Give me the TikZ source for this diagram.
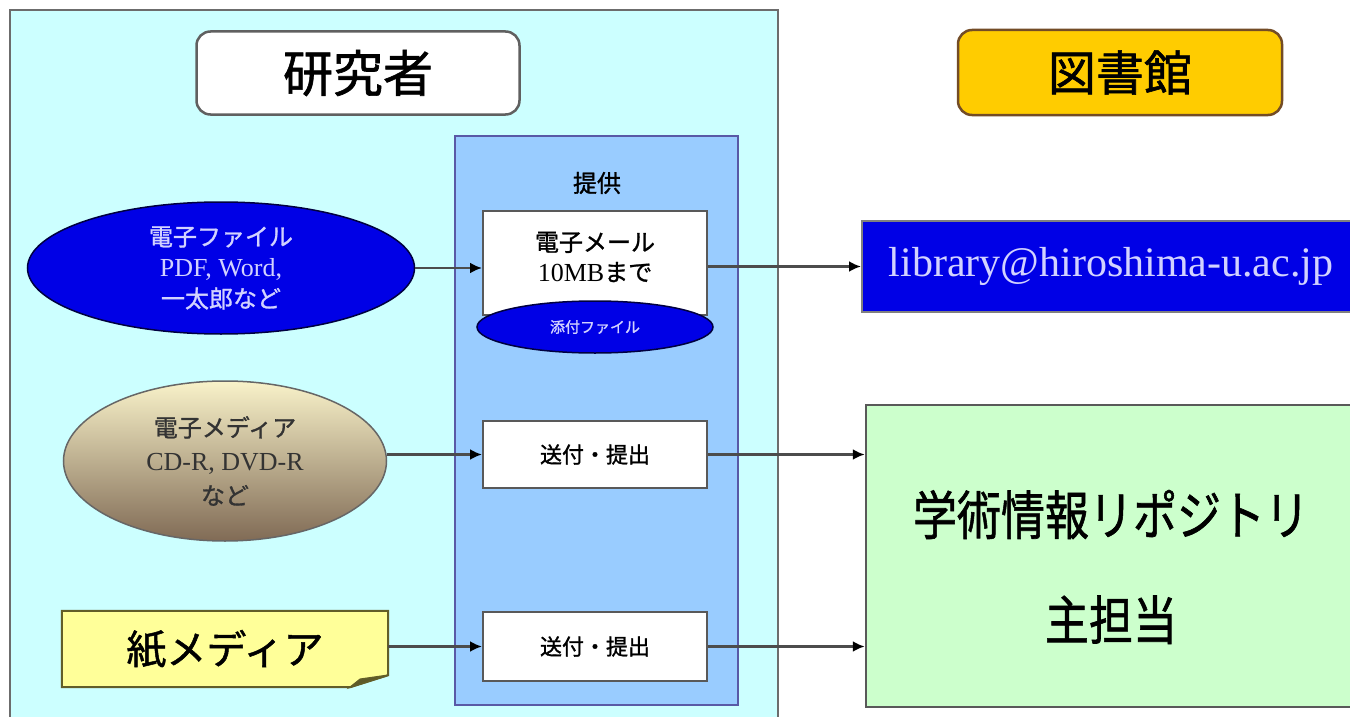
\documentclass[tikz,border=0pt]{standalone}
\usepackage{fontspec}
\setmainfont{Noto Sans CJK JP}[FakeBold=1.2]
\newfontfamily\lat{Liberation Serif}
\usetikzlibrary{shapes.geometric, arrows.meta}

\definecolor{panelcyan}{HTML}{CCFFFF}
\definecolor{offerblue}{HTML}{99CCFF}
\definecolor{fileblue}{HTML}{0000E6}
\definecolor{lightlav}{HTML}{D2D2FF}
\definecolor{libgold}{HTML}{FFCC00}
\definecolor{repogreen}{HTML}{CCFFCC}
\definecolor{paperyellow}{HTML}{FFFF99}

\tikzset{
  panel/.style={draw=gray!85!black, line width=2pt},
  headbox/.style={rectangle, rounded corners=14pt, draw=gray!75!black, line width=2.5pt, inner sep=0pt},
  whitebox/.style={rectangle, draw=gray!70!black, fill=white, line width=2pt, inner sep=0pt, minimum width=224pt},
  blob/.style={ellipse, draw=blue!25!black, fill=fileblue, text=lightlav, line width=1.5pt, inner sep=0pt, align=center},
  link/.style={draw=black!70, line width=2.5pt, -{Latex[length=12pt, width=11pt, color=black]}},
}

\begin{document}
\begin{tikzpicture}[x=1pt, y=-1pt]
\useasboundingbox (0,0) rectangle (1350,717);
\clip (0,0) rectangle (1350,717);
\fill[white] (0,0) rectangle (1350,717);

% researcher side
\draw[panel, fill=panelcyan] (10,10) rectangle (778,740);
\node[headbox, fill=white, minimum width=323pt, minimum height=83pt, font=\fontsize{50}{50}\selectfont] (res) at (358,73) {研究者};
\draw[draw=blue!30!gray, line width=2pt, fill=offerblue] (455,136) rectangle (738,705);
\node[font=\fontsize{24}{24}\selectfont] (offer) at (597,183) {提供};

% electronic file
\node[blob, minimum width=387pt, minimum height=132pt, font=\fontsize{24}{31}\selectfont] (efile) at (221,268)
  {電子ファイル\\{\lat\fontsize{26}{31}\selectfont PDF, Word,}\\一太郎など};
\node[whitebox, minimum height=104pt] (mail) at (595,263) {};
\node[align=center, font=\fontsize{24}{30}\selectfont] (mailtxt) at (595,257) {電子メール\\{\lat\fontsize{26}{30}\selectfont 10MB}まで};
\node[blob, minimum width=236pt, minimum height=52pt, font=\fontsize{15}{15}\selectfont] (attach) at (595,327) {添付ファイル};

% electronic media
\node[ellipse, draw=black!60, line width=1.5pt, top color=white!85!yellow!90!brown, middle color=brown!30!gray!60, bottom color=brown!45!black!75, minimum width=323pt, minimum height=160pt, inner sep=0pt, align=center, text=black!80, font=\fontsize{24}{34}\selectfont] (media) at (225,461)
  {電子メディア\\{\lat\fontsize{26}{34}\selectfont CD-R, DVD-R}\\など};
\node[whitebox, minimum height=67pt, font=\fontsize{22}{22}\selectfont] (send1) at (595,454.5) {送付・提出};

% paper media, note with folded corner
\node[minimum width=326pt, minimum height=76pt, inner sep=0pt] (paper) at (225,649) {};
\draw[draw=olive!60!black, line width=2pt, fill=paperyellow] (paper.north west) -- (paper.north east) -- ([yshift=12pt]paper.south east) -- ([xshift=-38pt]paper.south east) -- (paper.south west) -- cycle;
\draw[draw=olive!60!black, line width=1.5pt, fill=olive!55!black] ([yshift=12pt]paper.south east) -- ([xshift=-38pt]paper.south east) -- ([xshift=-28pt, yshift=8pt]paper.south east) -- cycle;
\node[font=\fontsize{40}{40}\selectfont] (papertxt) at (paper) {紙メディア};
\node[whitebox, minimum height=69pt, font=\fontsize{22}{22}\selectfont] (send2) at (595,646.5) {送付・提出};

% library side
\node[headbox, fill=libgold, draw=brown!60!black, minimum width=324pt, minimum height=85pt, font=\fontsize{48}{48}\selectfont] (lib) at (1120,72.5) {図書館};
\node[rectangle, draw=gray, line width=2pt, fill=fileblue, text=lightlav, minimum width=498pt, minimum height=91pt, font=\lat\fontsize{42}{42}\selectfont] (addr) at (1111,266.5)
  {library@hiroshima-u.ac.jp};
\node[rectangle, draw=black!65, line width=2.5pt, fill=repogreen, minimum width=490pt, minimum height=302pt] (repo) at (1111,556) {};
\node[align=center, font=\fontsize{44}{105}\selectfont] (repotxt) at (1111,567) {\scalebox{1}[1.2]{学術情報リポジトリ}\\\scalebox{1}[1.2]{主担当}};

% arrows
\draw[link] (efile.east) -- (efile.east -| mail.west);
\draw[link] (mail.east |- addr.west) -- (addr.west);
\draw[link] (send1.west -| media.east) -- (send1.west);
\draw[link] (send1.east) -- (send1.east -| repo.west);
\draw[link] (send2.west -| paper.east) -- (send2.west);
\draw[link] (send2.east) -- (send2.east -| repo.west);
\end{tikzpicture}
\end{document}
